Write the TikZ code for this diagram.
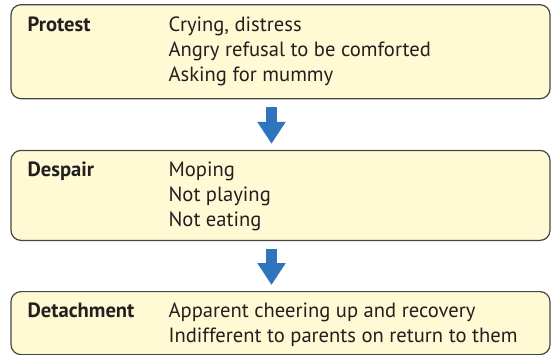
\documentclass[tikz,border=0pt]{standalone}
\usepackage{fontspec}
\setmainfont{PT Sans}
\usetikzlibrary{arrows.meta, positioning}
\definecolor{stagefill}{RGB}{255,250,212}
\definecolor{stageline}{RGB}{70,70,70}
\definecolor{stagetext}{RGB}{35,31,32}
\definecolor{flowblue}{RGB}{46,117,190}
\newcommand{\stagerows}[2]{\begin{tabular}[t]{@{}p{141pt}@{}l@{}}\textbf{#1} & #2\end{tabular}}

\begin{document}
\begin{tikzpicture}[
    stage/.style={rectangle, draw=stageline, fill=stagefill, line width=1.2pt, rounded corners=10pt, minimum width=539pt, inner sep=0pt},
    stagetxt/.style={anchor=base west, inner sep=0pt, text=stagetext, font=\fontsize{20.6}{25}\selectfont},
    flow/.style={-{Triangle[width=27pt, length=22pt]}, line width=11pt, draw=flowblue, shorten <=8pt, shorten >=6pt}
]
    \useasboundingbox (0,0) rectangle (551pt,-354pt);

    \node[stage, minimum height=94pt] (protest) at (280.5pt,-51.7pt) {};
    \node[stage, minimum height=90pt, below=50.5pt of protest] (despair) {};
    \node[stage, minimum height=63pt, below=50pt of despair] (detachment) {};

    \node[stagetxt, below right=27pt and 17pt of protest.north west, anchor=base west] (protesttext)
        {\stagerows{Protest}{Crying, distress\\ & Angry refusal to be comforted\\ & Asking for mummy}};
    \node[stagetxt, below right=27pt and 17pt of despair.north west, anchor=base west] (despairtext)
        {\stagerows{Despair}{Moping\\ & Not playing\\ & Not eating}};
    \node[stagetxt, below right=26pt and 17pt of detachment.north west, anchor=base west] (detachmenttext)
        {\stagerows{Detachment}{Apparent cheering up and recovery\\ & Indifferent to parents on return to them}};

    \draw[flow] ([xshift=-9pt]protest.south) -- ([xshift=-9pt]despair.north);
    \draw[flow] ([xshift=-9pt]despair.south) -- ([xshift=-9pt]detachment.north);
\end{tikzpicture}
\end{document}
